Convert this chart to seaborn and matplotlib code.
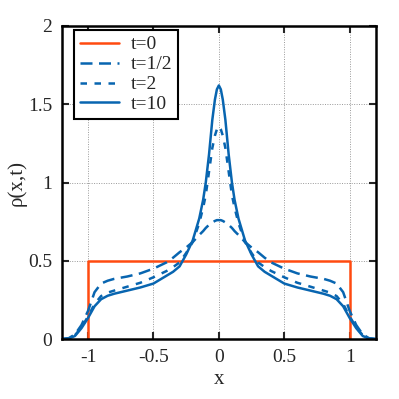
import matplotlib
matplotlib.use("Agg")
import matplotlib.pyplot as plt
import seaborn as sns
import pandas as pd

# t=0 : box initial condition
x_t0 = [-1.0, -1.0, 1.0, 1.0]
rho_t0 = [0.0, 0.5, 0.5, 0.0]

# common x grid (left half, mirrored below)
x_half = [-1.2, -1.15, -1.1, -1.05, -1.0, -0.95, -0.9, -0.85, -0.8, -0.7,
          -0.6, -0.5, -0.4, -0.35, -0.3, -0.25, -0.2, -0.15, -0.12, -0.1,
          -0.075, -0.05, -0.03, -0.015, 0.0]

rho_half_t05 = [0.0, 0.005, 0.03, 0.09, 0.18, 0.30, 0.355, 0.373, 0.385, 0.40,
                0.42, 0.45, 0.49, 0.52, 0.555, 0.585, 0.62, 0.665, 0.69, 0.71,
                0.73, 0.745, 0.755, 0.76, 0.76]

rho_half_t2 = [0.0, 0.005, 0.025, 0.075, 0.145, 0.225, 0.275, 0.297, 0.31, 0.335,
               0.36, 0.395, 0.435, 0.46, 0.49, 0.55, 0.62, 0.74, 0.84, 0.92,
               1.07, 1.22, 1.30, 1.34, 1.36]

rho_half_t10 = [0.0, 0.003, 0.02, 0.07, 0.135, 0.21, 0.255, 0.277, 0.29, 0.31,
                0.33, 0.355, 0.405, 0.43, 0.465, 0.54, 0.63, 0.77, 0.89, 1.0,
                1.18, 1.40, 1.53, 1.595, 1.62]

x_full = x_half + [-v for v in x_half[-2::-1]]


def mirror(vals):
    return vals + vals[-2::-1]


curves = pd.DataFrame({
    "x": x_full,
    "t=1/2": mirror(rho_half_t05),
    "t=2": mirror(rho_half_t2),
    "t=10": mirror(rho_half_t10),
})

orange = "#ff4a10"
blue = "#0865b0"
lw = 1.8

sns.set_style("ticks")
plt.rcParams["font.family"] = ["Liberation Serif", "DejaVu Serif"]

fig = plt.figure(figsize=(3.99, 3.99), dpi=100)
ax = fig.add_axes([0.155, 0.150, 0.787, 0.785])

sns.lineplot(x=x_t0, y=rho_t0, sort=False, estimator=None, color=orange,
             lw=lw, label="t=0", ax=ax)
sns.lineplot(data=curves, x="x", y="t=1/2", sort=False, estimator=None,
             color=blue, lw=lw, linestyle=(0, (4.8, 2.6)), label="t=1/2", ax=ax)
sns.lineplot(data=curves, x="x", y="t=2", sort=False, estimator=None,
             color=blue, lw=lw, linestyle=(0, (2.6, 3.0)), label="t=2", ax=ax)
sns.lineplot(data=curves, x="x", y="t=10", sort=False, estimator=None,
             color=blue, lw=lw, label="t=10", ax=ax)

ax.set_xlim(-1.2, 1.2)
ax.set_ylim(0, 2)
ax.set_xticks([-1, -0.5, 0, 0.5, 1])
ax.set_xticklabels(["-1", "-0.5", "0", "0.5", "1"])
ax.set_yticks([0, 0.5, 1, 1.5, 2])
ax.set_yticklabels(["0", "0.5", "1", "1.5", "2"])
ax.grid(True, color="#999999", linestyle=(0, (1, 1.5)), lw=0.7)
ax.tick_params(direction="in", length=5, width=1.5, top=True, right=True,
               labelsize=14, pad=7)
for sp in ax.spines.values():
    sp.set_linewidth(1.8)
    sp.set_color("black")

ax.set_xlabel("x", fontsize=15, labelpad=3)
ax.set_ylabel("ρ(x,t)", fontsize=15, labelpad=1)

leg = ax.legend(loc="upper left", bbox_to_anchor=(0.04, 0.987),
                borderaxespad=0, fontsize=14, frameon=True, fancybox=False,
                handlelength=2.0, handletextpad=0.6, labelspacing=0.12,
                borderpad=0.3)
leg.get_frame().set_edgecolor("black")
leg.get_frame().set_linewidth(1.5)
leg.get_frame().set_alpha(1)

fig.savefig("out.png", dpi=100)
